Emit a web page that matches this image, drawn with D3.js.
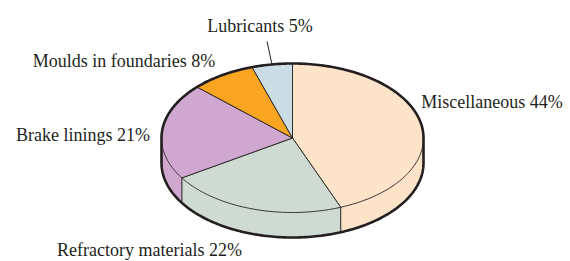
<!DOCTYPE html>
<html>
<head>
<meta charset="utf-8">
<script src="https://cdn.jsdelivr.net/npm/d3@7"></script>
<style>
  html, body { margin: 0; padding: 0; background: #fff; }
  svg { display: block; }
</style>
</head>
<body>
<div id="chart"></div>
<script>
// Data
const categories = ["Miscellaneous", "Refractory materials", "Brake linings", "Moulds in foundaries", "Lubricants"];
const shares = [44, 22, 21, 8, 5];
const colors = ["#fde4c9", "#cfdbd2", "#d0a7ce", "#f9a521", "#cbdde4"];

// Layout
const width = 570;
const height = 261;
const cx = 292.5, cy = 138;   // centre of the top face
const rx = 131, ry = 74.5;    // ellipse radii
const depth = 25;             // thickness of the disc
const ink = "#231f20";

// label placement relative to the slice mid point on the rim: [dx, dy, anchor]
const labelPlace = [
  [0, -16, "start"],
  [-10, 47, "end"],
  [-12, 10, "end"],
  [-7, -8, "end"],
  [-12, -32, "middle"]
];

const pie = d3.pie().sort(null).startAngle(0).endAngle(2 * Math.PI);
const arcs = pie(shares).map((d, i) => ({...d, name: categories[i], color: colors[i]}));

// angle -> screen point on the ellipse, dz pushes it down onto the bottom rim
const pt = (a, dz = 0) => [cx + rx * Math.sin(a), cy - ry * Math.cos(a) + dz];
const rim = (a0, a1, dz = 0) => {
  const n = Math.max(2, Math.ceil(Math.abs(a1 - a0) / 0.02));
  return d3.range(n + 1).map(k => pt(a0 + (a1 - a0) * k / n, dz));
};
const line = d3.line();

const svg = d3.select("#chart").append("svg")
  .attr("width", width)
  .attr("height", height)
  .attr("viewBox", [0, 0, width, height]);

// front half of the disc runs from 90deg to 270deg (clockwise from top)
const frontA0 = Math.PI / 2, frontA1 = 3 * Math.PI / 2;

// sides
const sides = svg.append("g");
arcs.forEach(d => {
  const a0 = Math.max(d.startAngle, frontA0);
  const a1 = Math.min(d.endAngle, frontA1);
  if (a1 <= a0) return;
  const pts = rim(a0, a1).concat(rim(a1, a0, depth));
  sides.append("path")
    .attr("d", line(pts) + "Z")
    .attr("fill", d.color);
});

// vertical edges where slices meet on the front
sides.selectAll("line.edge")
  .data(arcs.filter(d => d.startAngle > frontA0 && d.startAngle < frontA1))
  .join("line")
  .attr("class", "edge")
  .attr("x1", d => pt(d.startAngle)[0])
  .attr("y1", d => pt(d.startAngle)[1])
  .attr("x2", d => pt(d.startAngle, depth)[0])
  .attr("y2", d => pt(d.startAngle, depth)[1])
  .attr("stroke", ink)
  .attr("stroke-width", 1);

// top faces
svg.append("g")
  .selectAll("path")
  .data(arcs)
  .join("path")
  .attr("d", d => line([[cx, cy]].concat(rim(d.startAngle, d.endAngle))) + "Z")
  .attr("fill", d => d.color)
  .attr("stroke", ink)
  .attr("stroke-width", 0.9)
  .attr("stroke-linejoin", "round");

// outer silhouette: back half of the top rim, then the front half of the bottom rim
const sil = rim(3 * Math.PI / 2, 5 * Math.PI / 2)
  .concat(rim(Math.PI / 2, 3 * Math.PI / 2, depth));
svg.append("path")
  .attr("d", line(sil) + "Z")
  .attr("fill", "none")
  .attr("stroke", ink)
  .attr("stroke-width", 2.6)
  .attr("stroke-linejoin", "round");

// labels
const labels = svg.append("g")
  .attr("font-family", "'Liberation Serif', 'Times New Roman', serif")
  .attr("font-size", 18)
  .attr("fill", ink);

arcs.forEach((d, i) => {
  const mid = (d.startAngle + d.endAngle) / 2;
  const [mx, my] = pt(mid);
  const [dx, dy, anchor] = labelPlace[i];
  labels.append("text")
    .attr("x", mx + dx)
    .attr("y", my + dy)
    .attr("text-anchor", anchor)
    .text(`${d.name} ${d.data}%`);
  if (anchor === "middle") {
    // leader line for the small slice
    svg.append("line")
      .attr("x1", mx)
      .attr("y1", my)
      .attr("x2", mx - 5)
      .attr("y2", my - 23)
      .attr("stroke", ink)
      .attr("stroke-width", 1);
  }
});
</script>
</body>
</html>
